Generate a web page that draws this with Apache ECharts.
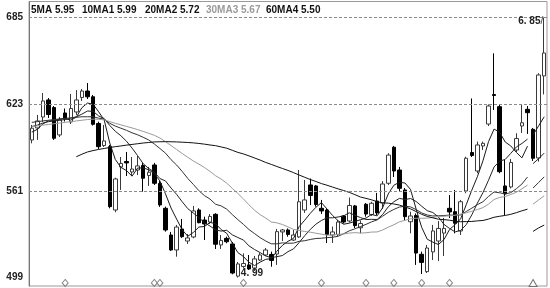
<!DOCTYPE html>
<html><head><meta charset="utf-8">
<script src="https://cdn.jsdelivr.net/npm/echarts@6/dist/echarts.min.js"></script>
<style>html,body{margin:0;padding:0;background:#fff}#c{width:550px;height:288px}</style>
</head><body><div id="c"></div>
<script>
// prices in hundredths (6.85 -> 685)
const opens = [597.4, 606.0, 613.8, 626.0, 620.6, 601.0, 616.7, 610.3, 617.4, 627.8,
 632.4, 628.3, 609.2, 593.4, 592.6, 547.3, 578.1, 582.0, 574.5, 575.9,
 579.1, 572.0, 579.5, 566.3, 548.5, 529.4, 518.7, 533.7, 525.1, 528.0,
 547.3, 540.1, 538.7, 544.2, 522.3, 527.0, 523.0, 500.0, 506.9, 508.0,
 505.8, 511.5, 515.1, 515.5, 515.8, 531.6, 533.0, 525.8, 528.0, 547.3,
 565.2, 564.5, 548.5, 547.3, 529.4, 529.8, 543.0, 539.4, 550.2, 534.6,
 551.4, 544.1, 553.7, 552.3, 566.4, 592.2, 575.9, 561.6, 538.9, 543.4,
 515.6, 503.2, 517.3, 525.1, 530.8, 548.5, 546.1, 532.3, 560.9, 588.4,
 575.2, 593.1, 608.8, 629.9, 621.2, 564.5, 563.8, 590.2, 607.4, 619.3,
 605.0, 584.5, 643.2];
const closes = [605.8, 611.0, 625.3, 615.6, 598.6, 611.7, 612.4, 619.9, 626.0, 632.4,
 628.3, 608.6, 592.6, 596.7, 549.7, 569.5, 580.6, 581.0, 576.6, 578.8,
 570.0, 574.3, 566.4, 550.9, 533.0, 518.7, 535.1, 528.2, 527.3, 546.6,
 538.2, 537.3, 542.7, 522.8, 525.5, 524.6, 502.2, 508.7, 509.0, 505.1,
 512.3, 515.1, 518.7, 511.2, 531.8, 533.0, 529.8, 529.4, 553.2, 554.5,
 557.7, 551.2, 546.6, 529.8, 531.6, 538.7, 538.7, 550.5, 536.1, 537.6,
 544.4, 552.1, 545.2, 565.9, 586.6, 575.2, 562.8, 542.5, 543.0, 516.5,
 509.8, 520.1, 532.3, 534.1, 534.1, 545.9, 537.8, 553.2, 584.3, 586.3,
 593.8, 595.0, 621.7, 629.2, 574.7, 558.8, 581.3, 598.4, 609.7, 616.9,
 584.3, 643.9, 659.6];
const lows = [595.0, 597.4, 610.3, 613.1, 597.4, 599.5, 610.6, 608.8, 615.3, 625.3,
 626.7, 607.7, 590.9, 592.4, 548.5, 545.7, 561.6, 571.6, 571.6, 572.3,
 560.4, 564.5, 565.2, 549.5, 531.8, 518.0, 513.9, 527.3, 523.0, 527.1,
 537.8, 525.8, 537.3, 519.4, 519.4, 523.5, 501.3, 499.0, 505.6, 504.4,
 503.7, 510.8, 514.4, 506.7, 508.0, 525.1, 528.2, 525.1, 527.3, 545.2,
 550.9, 549.7, 544.4, 523.7, 523.7, 528.2, 537.6, 538.4, 534.4, 530.6,
 542.5, 543.0, 543.7, 548.0, 565.2, 570.9, 560.9, 540.1, 530.6, 508.0,
 501.5, 502.2, 511.5, 510.8, 514.4, 541.6, 530.6, 529.4, 559.3, 585.2,
 573.6, 590.2, 607.4, 618.8, 573.6, 543.7, 562.7, 588.8, 602.4, 601.7,
 582.4, 581.9, 630.0];
const highs = [608.1, 615.3, 631.0, 627.4, 621.7, 613.8, 619.9, 630.3, 633.1, 633.9,
 638.1, 629.6, 610.5, 608.1, 593.8, 570.4, 585.2, 588.8, 585.2, 585.9,
 581.0, 578.1, 581.0, 568.1, 549.7, 531.6, 536.6, 540.9, 530.1, 550.2,
 548.5, 542.5, 544.4, 545.0, 529.4, 528.2, 524.4, 510.1, 516.3, 515.1,
 514.4, 516.5, 520.1, 517.5, 533.7, 533.7, 534.1, 533.0, 575.9, 568.8,
 569.8, 565.2, 554.5, 548.5, 535.4, 540.1, 543.7, 556.2, 550.9, 539.8,
 552.3, 553.2, 559.5, 568.0, 587.9, 593.1, 578.1, 563.0, 546.1, 544.8,
 517.5, 522.3, 536.6, 539.4, 541.6, 558.0, 561.6, 554.5, 585.4, 627.1,
 596.2, 596.2, 622.8, 659.4, 622.4, 583.1, 583.8, 602.2, 622.4, 621.7,
 606.0, 645.1, 685.0];

const ma5 = [603.0, 605.0, 609.0, 611.0, 611.3, 612.4, 612.7, 611.6, 613.7, 620.5,
 623.8, 623.0, 617.6, 611.7, 595.2, 583.4, 577.8, 575.5, 571.5, 577.3,
 577.4, 576.1, 573.2, 568.1, 558.9, 548.7, 540.8, 533.2, 528.5, 531.2,
 535.1, 535.5, 538.4, 537.5, 533.3, 530.6, 523.6, 516.8, 514.0, 509.9,
 507.5, 510.0, 512.0, 512.5, 517.8, 522.0, 524.9, 527.0, 535.4, 540.0,
 544.9, 549.2, 552.6, 548.0, 543.4, 539.6, 537.1, 537.9, 539.1, 540.3,
 541.5, 544.1, 543.1, 549.0, 558.8, 565.0, 567.1, 566.6, 562.0, 548.0,
 534.9, 526.4, 524.3, 522.6, 526.1, 533.3, 536.8, 541.0, 551.1, 561.5,
 571.1, 582.5, 596.2, 605.2, 602.9, 595.9, 593.1, 588.5, 584.6, 593.0];
const ma10 = [607.0, 608.0, 609.5, 610.5, 611.0, 611.5, 612.0, 613.0, 614.0, 615.9,
 618.1, 617.9, 614.6, 612.7, 607.8, 603.6, 600.4, 596.5, 591.6, 586.2,
 580.4, 577.0, 574.4, 569.8, 568.1, 563.0, 558.5, 553.2, 548.3, 545.1,
 541.9, 538.2, 535.8, 533.0, 532.2, 532.8, 529.5, 527.6, 525.8, 521.6,
 519.0, 516.8, 514.4, 513.2, 513.9, 514.7, 517.5, 519.5, 524.0, 528.9,
 533.4, 537.1, 539.8, 541.7, 541.7, 542.3, 543.1, 545.3, 543.5, 541.9,
 540.5, 540.6, 540.5, 544.1, 549.6, 553.2, 555.6, 554.8, 555.5, 553.4,
 550.0, 546.8, 545.5, 542.3, 537.0, 534.1, 531.6, 532.7, 536.8, 543.8,
 552.2, 559.7, 568.6, 578.1, 582.2, 583.5, 587.8, 592.4, 594.9, 598.0];
const ma20 = [610.0, 610.5, 611.0, 611.5, 612.0, 612.4, 612.8, 613.2, 613.6, 614.0,
 614.0, 614.0, 613.0, 612.3, 609.3, 607.3, 605.8, 604.3, 602.5, 601.1,
 599.3, 597.4, 594.5, 591.3, 588.0, 583.3, 579.5, 574.9, 569.9, 565.6,
 561.1, 557.6, 555.1, 551.4, 550.2, 547.9, 544.0, 540.4, 537.0, 533.3,
 530.4, 527.5, 525.1, 523.1, 523.1, 523.8, 523.5, 523.6, 524.9, 525.3,
 526.2, 526.9, 527.1, 527.5, 527.8, 528.5, 530.3, 532.4, 533.8, 535.4,
 537.0, 538.8, 540.2, 542.9, 545.6, 547.7, 549.4, 550.0, 549.5, 547.6,
 545.2, 543.7, 543.0, 543.2, 543.3, 543.7, 543.6, 543.8, 546.2, 548.6,
 551.1, 553.2, 557.0, 560.2, 559.6, 558.8, 559.7, 562.5, 565.9, 570.9];
const ma30 = [607.0, 607.5, 608.0, 608.5, 609.0, 609.5, 610.0, 610.5, 611.0, 611.5,
 612.0, 612.3, 612.2, 611.8, 610.5, 609.3, 608.2, 607.1, 606.0, 604.8,
 603.5, 602.2, 600.7, 598.8, 596.2, 593.4, 590.6, 587.7, 585.0, 582.4,
 580.1, 577.7, 574.9, 571.8, 569.4, 566.5, 562.8, 559.1, 555.2, 551.0,
 547.1, 544.0, 541.5, 538.7, 538.1, 536.9, 535.2, 533.4, 532.7, 531.9,
 531.4, 530.7, 530.0, 529.3, 529.3, 529.9, 530.1, 530.8, 531.1, 530.8,
 531.0, 531.5, 531.6, 533.0, 535.0, 536.7, 538.8, 539.9, 541.0, 541.4,
 541.3, 541.5, 541.9, 542.7, 542.8, 543.2, 543.5, 544.3, 545.3, 546.4,
 547.6, 549.0, 551.5, 554.8, 556.3, 556.9, 558.4, 560.0, 562.4, 565.1];
const ma60 = [null, null, null, null, null, null, null, null, 585.4, 587.2,
 588.8, 589.8, 590.6, 591.3, 592.0, 592.6, 593.1, 593.7, 594.2, 594.7,
 595.2, 595.6, 596.0, 596.1, 596.2, 596.1, 596.0, 595.8, 595.6, 595.3,
 594.9, 594.4, 593.8, 593.3, 592.4, 591.5, 590.0, 588.5, 587.4, 586.0,
 584.5, 583.0, 581.3, 579.9, 578.4, 577.0, 575.6, 574.0, 572.3, 570.7,
 569.1, 567.7, 566.2, 565.0, 563.7, 562.4, 561.2, 559.9, 558.3, 556.6,
 555.6, 554.6, 553.2, 552.4, 552.2, 551.6, 550.8, 549.5, 548.1, 546.2,
 544.2, 542.7, 541.7, 540.7, 540.4, 540.0, 539.3, 538.9, 539.0, 539.1,
 539.5, 539.8, 540.8, 542.1, 542.8, 543.4, 544.2, 545.4, 546.7, 547.9];
// short detached MA pieces over the last three bars
const ma5Tail = [601.0, 607.5, 614.0];
const ma10Tail = [580.5, 584.0, 588.0];
const ma20Tail = [563.0, 567.0, 571.0];
const ma30Tail = [551.5, 554.5, 557.5];
const ma60Tail = [532.0, 534.5, 536.5];

const legendTexts = ['5MA 5.95', '10MA1 5.99', '20MA2 5.72', '30MA3 5.67', '60MA4 5.50'];
const yTicks = [499, 561, 623, 685];
const gridLevels = [561, 623, 685];
const diamondIdx = [6, 22, 23, 38, 52, 60, 65, 70, 75];
const triangleIdx = [90];
const highLabel = '6. 85';
const lowLabel = '4. 99';

const cats = opens.map((_, i) => 'T' + (i + 1));
const n = cats.length;
const kData = opens.map((o, i) => [o, closes[i], lows[i], highs[i]]);
const pad = (arr) => arr.concat(new Array(n - arr.length).fill(null));
const tailPad = (tail) => new Array(n - tail.length).fill(null).concat(tail);
const markerLevel = 495.1;

let hiI = 0, loI = 0;
highs.forEach((h, i) => { if (h > highs[hiI]) hiI = i; });
lows.forEach((l, i) => { if (l < lows[loI]) loI = i; });

const maDefs = [
  {name: '5MA', main: ma5, tail: ma5Tail, color: '#1a1a1a', w: 1},
  {name: '10MA1', main: ma10, tail: ma10Tail, color: '#222', w: 1},
  {name: '20MA2', main: ma20, tail: ma20Tail, color: '#333', w: 1},
  {name: '30MA3', main: ma30, tail: ma30Tail, color: '#9a9a9a', w: 1},
  {name: '60MA4', main: ma60, tail: ma60Tail, color: '#111', w: 1}
];

const series = [{
  type: 'candlestick', data: kData, barWidth: 4,
  itemStyle: {color: '#ffffff', color0: '#000000', borderColor: '#3a3a3a', borderColor0: '#000000', borderWidth: 1},
  markLine: {
    silent: true, symbol: ['none', 'none'], label: {show: false},
    lineStyle: {type: [3, 2], color: '#8a8a8a', width: 1},
    data: gridLevels.map(v => ({yAxis: v}))
  },
  markPoint: {
    silent: true,
    data: [
      {coord: [cats[hiI], highs[hiI]], symbol: 'circle', symbolSize: 0,
       label: {show: true, position: 'left', distance: 1, offset: [0, 4],
         formatter: '{a|' + highLabel + '}{b|/}',
         rich: {a: {fontFamily: 'Liberation Sans', fontWeight: 'bold', fontSize: 10, color: '#222'},
                b: {fontFamily: 'Liberation Sans', fontSize: 10, color: '#444'}}}},
      {coord: [cats[loI], lows[loI]], symbol: 'circle', symbolSize: 0,
       label: {show: true, position: 'right', distance: 3, offset: [0, -4],
         formatter: lowLabel, fontFamily: 'Liberation Sans', fontWeight: 'bold', fontSize: 10, color: '#222'}}
    ]
  }
}];
maDefs.forEach(d => {
  series.push({type: 'line', name: d.name, data: pad(d.main), symbol: 'none', connectNulls: false,
    lineStyle: {color: d.color, width: d.w}, silent: true});
  series.push({type: 'line', name: d.name + 't', data: tailPad(d.tail), symbol: 'none', connectNulls: false,
    lineStyle: {color: d.color, width: d.w}, silent: true});
});
series.push({type: 'scatter', data: diamondIdx.map(i => [cats[i], markerLevel]), symbol: 'diamond', symbolSize: [6, 7],
  itemStyle: {color: '#fff', borderColor: '#666', borderWidth: 1}, silent: true});
series.push({type: 'scatter', data: triangleIdx.map(i => [cats[i], markerLevel]), symbol: 'triangle', symbolSize: [8, 7],
  itemStyle: {color: '#fff', borderColor: '#555', borderWidth: 1}, silent: true});

const legendX = [31, 82, 145, 206, 266];
const graphics = legendTexts.map((t, i) => ({
  type: 'text', left: legendX[i], top: 5,
  style: {text: t, fill: i === 3 ? '#9a9a9a' : '#111', font: 'bold 10px "Liberation Sans"'}
}));

const chart = echarts.init(document.getElementById('c'), null, {renderer: 'canvas'});
chart.setOption({
  animation: false,
  backgroundColor: '#fff',
  grid: {left: 29, right: 3, top: 1.5, bottom: 2, show: true, borderColor: '#9a9a9a', borderWidth: 1, backgroundColor: 'transparent'},
  xAxis: {type: 'category', data: cats, boundaryGap: true, axisLine: {show: false}, axisTick: {show: false}, axisLabel: {show: false}, splitLine: {show: false}},
  yAxis: {type: 'value', min: 492.92, max: 696.45, splitLine: {show: false}, axisTick: {show: false},
    axisLine: {show: true, lineStyle: {color: '#777'}},
    axisLabel: {customValues: yTicks, formatter: v => String(Math.round(v)), fontFamily: 'Liberation Sans', fontWeight: 'bold', fontSize: 10, color: '#222', margin: 6}},
  graphic: graphics,
  series: series
});
</script></body></html>
